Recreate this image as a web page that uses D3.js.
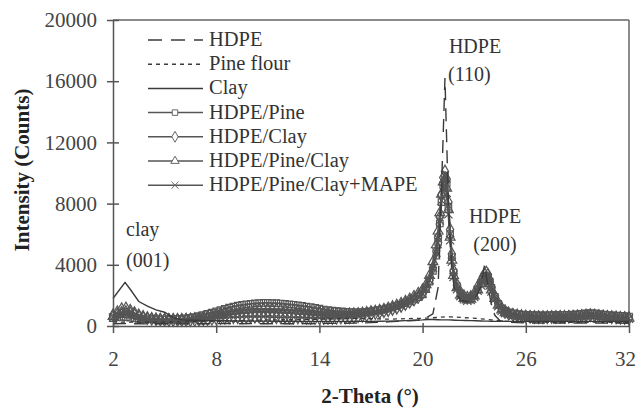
<!DOCTYPE html>
<html>
<head>
<meta charset="utf-8">
<script src="https://cdn.jsdelivr.net/npm/d3@7"></script>
<style>
  html, body { margin: 0; padding: 0; background: #fff; }
  svg { display: block; font-family: "Liberation Serif", "DejaVu Serif", serif; }
</style>
</head>
<body>
<svg id="chart" width="638" height="409"></svg>
<script>
// ---- data ----
// coarse 2-theta grid for the plain-line patterns
const theta = [2,2.7,3,3.5,4,4.5,5,5.5,6,6.5,7,7.5,8,8.5,9,9.5,10,10.5,11,11.5,12,12.5,13,13.5,14,14.5,15,15.5,16,16.5,17,17.5,18,18.5,19,19.5,20,20.3,20.6,20.9,21.1,21.3,21.5,21.7,21.9,22.2,22.5,22.8,23.1,23.4,23.6,23.8,24,24.2,24.5,25,25.5,26,26.5,27,27.5,28,28.5,29,29.5,30,30.5,31,31.5,32];

const hdpe = [150,160,150,150,140,150,150,150,140,150,150,150,150,160,150,150,160,150,150,160,150,150,160,150,160,170,170,180,190,200,220,240,270,300,330,360,400,600,800,2500,9000,16200,8000,3500,2200,1700,1600,1600,1900,2600,4000,2600,1400,700,350,250,220,200,200,190,200,200,190,200,200,200,190,200,190,180];

const pine = [250,260,250,250,260,250,260,260,270,280,290,300,300,320,340,360,380,390,400,400,410,410,420,430,440,460,480,500,500,490,480,460,450,460,480,500,500,520,540,560,580,600,600,590,580,560,540,520,500,470,450,420,400,380,350,300,280,260,250,250,240,250,240,250,240,250,240,240,230,230];

const clay = [1800,2850,2400,1600,1300,1050,900,550,400,380,360,350,340,340,330,330,320,320,320,310,310,310,300,300,300,300,300,300,300,300,300,310,320,330,350,380,400,420,420,410,400,400,400,390,380,370,360,350,340,330,320,320,310,300,300,300,300,300,300,300,300,300,300,300,300,300,300,300,300,300];

// fine 2-theta grid for the four composite patterns (drawn with markers)
const thetaFine = [
  2,2.25,2.5,2.75,3,3.25,3.5,3.75,4,4.25,4.5,4.75,5,5.25,5.5,5.75,6,
  6.25,6.5,6.75,7,7.25,7.5,7.75,8,8.25,8.5,8.75,9,9.25,9.5,9.75,10,10.25,10.5,10.75,11,11.25,11.5,11.75,12,
  12.25,12.5,12.75,13,13.25,13.5,13.75,14,14.25,14.5,14.75,15,15.25,15.5,15.75,16,16.25,16.5,16.75,17,17.25,17.5,17.75,18,18.25,18.5,18.75,19,19.25,19.5,19.75,20,
  20.2,20.4,20.6,20.8,20.9,21,21.1,21.2,21.3,21.4,21.5,21.6,21.7,21.8,
  22,22.2,22.4,22.6,22.8,23,23.2,23.4,23.5,23.6,23.7,23.8,23.9,24,24.2,24.4,24.6,24.8,
  25,25.25,25.5,25.75,26,26.25,26.5,26.75,27,27.25,27.5,27.75,28,28.25,28.5,28.75,29,29.25,29.5,29.75,30,30.25,30.5,30.75,31,31.25,31.5,31.75,32];

const hdpePine = [
  520,560,600,580,540,500,470,450,440,430,430,420,430,430,440,450,460,
  500,540,590,650,720,800,880,960,1040,1120,1200,1270,1330,1380,1420,1450,1480,1500,1510,1510,1500,1490,1470,1450,
  1420,1390,1350,1310,1270,1230,1180,1130,1080,1040,1000,970,950,930,910,900,900,910,930,960,1000,1040,1090,1150,1220,1300,1390,1490,1600,1730,1880,2060,
  2400,2900,3600,4600,5500,6700,8100,9200,9800,9300,7800,6000,4500,3500,
  2600,2100,1850,1750,1800,2000,2400,2800,3050,3250,3300,3200,2900,2500,1900,1450,1150,1000,
  900,830,780,750,730,720,710,700,700,700,710,710,720,720,730,740,760,790,820,840,820,780,740,720,700,680,660,640,620];

const hdpeClay = [
  700,900,1100,1150,1000,850,700,600,520,470,440,420,410,400,400,400,400,
  400,400,410,420,440,460,480,500,520,540,560,570,580,590,600,600,600,600,590,590,580,580,570,570,
  560,560,550,550,540,540,530,530,530,530,530,540,550,560,580,600,630,670,720,780,850,900,960,1030,1110,1200,1310,1440,1580,1740,1920,2150,
  2500,3000,3800,4900,5800,7100,8600,9700,10100,9600,8100,6300,4700,3600,
  2700,2200,1950,1850,1900,2100,2550,2950,3200,3400,3500,3350,3000,2550,1950,1500,1150,950,
  820,740,690,650,620,600,590,580,580,580,590,590,600,600,610,620,640,660,690,710,690,660,630,600,580,560,540,530,510];

const hdpePineClay = [
  620,780,900,950,880,760,640,560,500,470,450,440,430,420,420,420,430,
  450,470,500,540,590,640,700,760,820,870,920,960,1000,1030,1060,1080,1100,1100,1100,1090,1090,1080,1070,1060,
  1040,1020,1000,980,950,920,900,870,850,830,810,800,790,790,800,810,830,860,900,950,980,1040,1110,1190,1280,1380,1500,1630,1780,1950,2150,2380,
  2700,3300,4200,5300,6200,7400,8600,9400,9600,9000,7600,5800,4300,3300,
  2500,2000,1800,1700,1750,1950,2350,2750,2950,3100,3200,3050,2750,2350,1800,1350,1050,870,
  780,710,660,620,600,590,580,570,570,570,580,580,590,590,600,610,630,650,680,700,680,650,620,590,570,550,530,510,500];

const hdpePineClayMape = [
  560,680,780,800,750,660,570,500,460,430,410,400,400,390,390,400,400,
  420,440,470,500,540,580,620,670,710,750,790,820,850,870,890,910,920,920,920,910,910,900,890,880,
  870,850,830,810,790,770,750,730,720,710,700,700,700,700,710,730,750,780,820,870,900,950,1010,1080,1160,1250,1350,1470,1600,1750,1920,2120,
  2450,3000,3800,4800,5700,6900,8200,9000,9200,8700,7300,5600,4200,3200,
  2400,1950,1750,1650,1700,1900,2300,2650,2850,3000,3050,2900,2650,2250,1750,1300,1000,840,
  750,680,630,600,580,570,560,550,550,550,560,560,570,570,580,590,610,630,660,680,660,630,600,570,550,530,510,500,480];

const seriesNames = ["HDPE","Pine flour","Clay","HDPE/Pine","HDPE/Clay","HDPE/Pine/Clay","HDPE/Pine/Clay+MAPE"];
const xTicks = [2,8,14,20,26,32];
const yTicks = [0,4000,8000,12000,16000,20000];

// ---- layout ----
const svg = d3.select("#chart");
const x = d3.scaleLinear().domain([2,32]).range([113,629]);
const y = d3.scaleLinear().domain([0,20000]).range([326,20]);

const series = [
  {name: seriesNames[0], xs: theta, values: hdpe, color:"#3a3a3a", width:1.4, dash:"13,8", marker:null},
  {name: seriesNames[1], xs: theta, values: pine, color:"#3a3a3a", width:1.3, dash:"4,4", marker:null},
  {name: seriesNames[2], xs: theta, values: clay, color:"#3a3a3a", width:1.4, dash:null, marker:null},
  {name: seriesNames[3], xs: thetaFine, values: hdpePine, color:"#555", width:1.8, dash:null, marker:"square"},
  {name: seriesNames[4], xs: thetaFine, values: hdpeClay, color:"#555", width:1.8, dash:null, marker:"diamond"},
  {name: seriesNames[5], xs: thetaFine, values: hdpePineClay, color:"#555", width:1.8, dash:null, marker:"triangle"},
  {name: seriesNames[6], xs: thetaFine, values: hdpePineClayMape, color:"#555", width:1.8, dash:null, marker:"cross"}
];

const plotSymbol = {
  square: d3.symbol().type(d3.symbolSquare).size(42),
  diamond: d3.symbol().type(d3.symbolDiamond).size(46),
  triangle: d3.symbol().type(d3.symbolTriangle).size(42),
  cross: d3.symbol().type(d3.symbolX).size(46)
};
const legendSymbol = {
  square: d3.symbol().type(d3.symbolSquare).size(30),
  diamond: d3.symbol().type(d3.symbolDiamond).size(34),
  triangle: d3.symbol().type(d3.symbolTriangle).size(30),
  cross: d3.symbol().type(d3.symbolX).size(34)
};

// frame (top and right)
svg.append("line").attr("x1", x(2)).attr("x2", x(32)).attr("y1", y(20000)).attr("y2", y(20000))
  .attr("stroke", "#666").attr("stroke-width", 1.5);
svg.append("line").attr("x1", x(32)).attr("x2", x(32)).attr("y1", y(20000)).attr("y2", y(0))
  .attr("stroke", "#666").attr("stroke-width", 1.5);

const plot = svg.append("g");
const lineFor = s => d3.line().x((d,i) => x(s.xs[i])).y(d => y(d));

// marker series first (they form the gray band), then thin lines on top
series.slice(3).forEach(s => {
  plot.append("path").datum(s.values).attr("d", lineFor(s))
    .attr("fill","none").attr("stroke", s.color).attr("stroke-width", s.width);
});
series.slice(3).forEach(s => {
  plot.append("g").selectAll("path").data(s.values).join("path")
    .attr("d", plotSymbol[s.marker])
    .attr("transform", (d,i) => `translate(${x(s.xs[i])},${y(d)})`)
    .attr("fill","none").attr("stroke", s.color).attr("stroke-width", 1.2);
});
series.slice(0,3).forEach(s => {
  plot.append("path").datum(s.values).attr("d", lineFor(s))
    .attr("fill","none").attr("stroke", s.color).attr("stroke-width", s.width)
    .attr("stroke-dasharray", s.dash);
});

// axes
const yAxis = svg.append("g").attr("transform", `translate(${x(2)},0)`)
  .call(d3.axisLeft(y).tickValues(yTicks).tickFormat(d3.format("d")).tickSizeInner(6).tickSizeOuter(0).tickPadding(10));
yAxis.select(".domain").attr("stroke","#555").attr("stroke-width",1.5);
yAxis.selectAll(".tick line").attr("x1",6).attr("x2",-6).attr("stroke","#555").attr("stroke-width",1.5);
yAxis.selectAll(".tick text").attr("font-size",21).attr("fill","#444").attr("font-family","Liberation Serif");

const xAxis = svg.append("g").attr("transform", `translate(0,${y(0)})`)
  .call(d3.axisBottom(x).tickValues(xTicks).tickFormat(d3.format("d")).tickSizeInner(7).tickSizeOuter(0).tickPadding(18));
xAxis.select(".domain").attr("stroke","#555").attr("stroke-width",1.5);
xAxis.selectAll(".tick line").attr("y1",-3).attr("y2",7).attr("stroke","#555").attr("stroke-width",1.5);
xAxis.selectAll(".tick text").attr("font-size",21).attr("fill","#444").attr("font-family","Liberation Serif")
  .attr("dx", d => d === 32 ? -4 : 0);

// axis titles
svg.append("text").attr("transform","translate(29,170) rotate(-90)")
  .attr("text-anchor","middle").attr("font-size",21).attr("font-weight","bold").attr("fill","#222")
  .text("Intensity (Counts)");
svg.append("text").attr("x",370).attr("y",403)
  .attr("text-anchor","middle").attr("font-size",21).attr("font-weight","bold").attr("fill","#222")
  .text("2-Theta (°)");

// legend
const legend = svg.append("g");
series.forEach((s,i) => {
  const cy = 40 + i*24.2;
  legend.append("line").attr("x1",148).attr("x2",203).attr("y1",cy).attr("y2",cy)
    .attr("stroke", s.marker ? "#555" : s.color).attr("stroke-width", 1.5)
    .attr("stroke-dasharray", s.dash === "13,8" ? "14,9" : s.dash);
  if (s.marker) {
    legend.append("path").attr("d", legendSymbol[s.marker]).attr("transform",`translate(175,${cy})`)
      .attr("fill","#fff").attr("stroke","#666").attr("stroke-width",1);
  }
  legend.append("text").attr("x",209).attr("y",cy+6).attr("font-size",20.5).attr("fill","#333")
    .text(s.name);
});

// annotations
const ann = svg.append("g").attr("font-size",20).attr("fill","#333");
ann.append("text").attr("x",475).attr("y",53).attr("text-anchor","middle").text("HDPE");
ann.append("text").attr("x",448).attr("y",81).text("(110)");
ann.append("text").attr("x",495).attr("y",223).attr("text-anchor","middle").text("HDPE");
ann.append("text").attr("x",495).attr("y",251).attr("text-anchor","middle").text("(200)");
ann.append("text").attr("x",126).attr("y",236).text("clay");
ann.append("text").attr("x",126).attr("y",267).text("(001)");
</script>
</body>
</html>
